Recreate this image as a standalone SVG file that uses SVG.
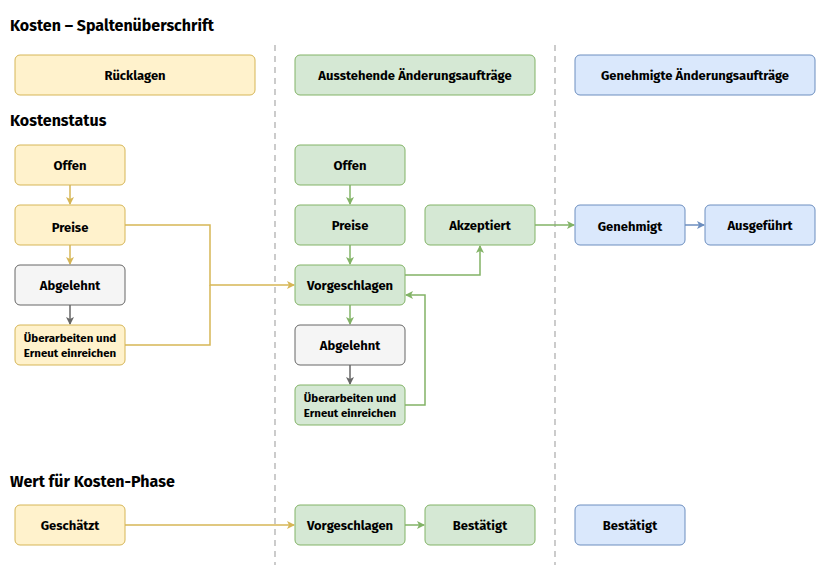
<svg xmlns="http://www.w3.org/2000/svg" width="821" height="572" viewBox="0 0 821 572">
<style>
text{font-family:"Fira Sans","Liberation Sans",sans-serif;font-weight:bold;fill:#000}
.t{font-size:16px}
.l{font-size:13px;text-anchor:middle;dominant-baseline:central}
.s{font-size:11.5px;text-anchor:middle}
.y{fill:#fff2cc;stroke:#d6b656}
.g{fill:#d5e8d4;stroke:#82b366}
.b{fill:#dae8fc;stroke:#6c8ebf}
.n{fill:#f5f5f5;stroke:#666666}
.c{fill:none;stroke-width:1.5}
.cy{stroke:#d6b656}.cg{stroke:#82b366}.cb{stroke:#6c8ebf}.cn{stroke:#666666}
</style>
<defs>
<marker id="my" markerWidth="8" markerHeight="8" refX="7" refY="4" orient="auto" markerUnits="userSpaceOnUse"><path d="M0,0L8,4L0,8L2,4z" fill="#d6b656"/></marker>
<marker id="mg" markerWidth="8" markerHeight="8" refX="7" refY="4" orient="auto" markerUnits="userSpaceOnUse"><path d="M0,0L8,4L0,8L2,4z" fill="#82b366"/></marker>
<marker id="mb" markerWidth="8" markerHeight="8" refX="7" refY="4" orient="auto" markerUnits="userSpaceOnUse"><path d="M0,0L8,4L0,8L2,4z" fill="#6c8ebf"/></marker>
<marker id="mn" markerWidth="8" markerHeight="8" refX="7" refY="4" orient="auto" markerUnits="userSpaceOnUse"><path d="M0,0L8,4L0,8L2,4z" fill="#666666"/></marker>
</defs>
<rect width="821" height="572" fill="#fff"/>
<text class="t" x="10" y="31">Kosten – Spaltenüberschrift</text>
<text class="t" x="10" y="126">Kostenstatus</text>
<text class="t" x="10" y="487">Wert für Kosten-Phase</text>
<g stroke="#aaaaaa" stroke-dasharray="6,5" stroke-width="1.2">
<line x1="275" y1="45" x2="275" y2="565"/><line x1="555" y1="45" x2="555" y2="565"/>
</g>
<g id="connectors">
<path class="c cy" d="M70,185V204" marker-end="url(#my)"/>
<path class="c cy" d="M70,245V264" marker-end="url(#my)"/>
<path class="c cn" d="M70,305V324" marker-end="url(#mn)"/>
<path class="c cy" d="M125,225H210V285H294" marker-end="url(#my)"/>
<path class="c cy" d="M125,345H210V285"/>
<path class="c cg" d="M350,185V204" marker-end="url(#mg)"/>
<path class="c cg" d="M350,245V264" marker-end="url(#mg)"/>
<path class="c cg" d="M350,305V324" marker-end="url(#mg)"/>
<path class="c cn" d="M350,365V384" marker-end="url(#mn)"/>
<path class="c cg" d="M405,405H425V295H406" marker-end="url(#mg)"/>
<path class="c cg" d="M405,275H480V246" marker-end="url(#mg)"/>
<path class="c cg" d="M535,225H574" marker-end="url(#mg)"/>
<path class="c cb" d="M685,225H704" marker-end="url(#mb)"/>
<path class="c cy" d="M125,525H294" marker-end="url(#my)"/>
<path class="c cg" d="M405,525H424" marker-end="url(#mg)"/>
</g>
<g id="h1"><rect class="y" x="15" y="55" width="240" height="40" rx="5"/><text class="l" x="135" y="75">Rücklagen</text></g>
<g id="h2"><rect class="g" x="295" y="55" width="240" height="40" rx="5"/><text class="l" x="415" y="75">Ausstehende Änderungsaufträge</text></g>
<g id="h3"><rect class="b" x="575" y="55" width="240" height="40" rx="5"/><text class="l" x="695" y="75">Genehmigte Änderungsaufträge</text></g>
<g id="y1"><rect class="y" x="15" y="145" width="110" height="40" rx="5"/><text class="l" x="70" y="165">Offen</text></g>
<g id="y2"><rect class="y" x="15" y="205" width="110" height="40" rx="5"/><text class="l" x="70" y="227">Preise</text></g>
<g id="y3"><rect class="n" x="15" y="265" width="110" height="40" rx="5"/><text class="l" x="70" y="285">Abgelehnt</text></g>
<g id="y4"><rect class="y" x="15" y="325" width="110" height="40" rx="5"/><text class="s" x="70" y="342">Überarbeiten und</text><text class="s" x="70" y="357">Erneut einreichen</text></g>
<g id="g1"><rect class="g" x="295" y="145" width="110" height="40" rx="5"/><text class="l" x="350" y="165">Offen</text></g>
<g id="g2"><rect class="g" x="295" y="205" width="110" height="40" rx="5"/><text class="l" x="350" y="225">Preise</text></g>
<g id="g3"><rect class="g" x="295" y="265" width="110" height="40" rx="5"/><text class="l" x="350" y="285">Vorgeschlagen</text></g>
<g id="g4"><rect class="n" x="295" y="325" width="110" height="40" rx="5"/><text class="l" x="350" y="345">Abgelehnt</text></g>
<g id="g5"><rect class="g" x="295" y="385" width="110" height="40" rx="5"/><text class="s" x="350" y="402">Überarbeiten und</text><text class="s" x="350" y="417">Erneut einreichen</text></g>
<g id="g6"><rect class="g" x="425" y="205" width="110" height="40" rx="5"/><text class="l" x="480" y="225">Akzeptiert</text></g>
<g id="b1"><rect class="b" x="575" y="205" width="110" height="40" rx="5"/><text class="l" x="630" y="226">Genehmigt</text></g>
<g id="b2"><rect class="b" x="705" y="205" width="110" height="40" rx="5"/><text class="l" x="760" y="225">Ausgeführt</text></g>
<g id="w1"><rect class="y" x="15" y="505" width="110" height="40" rx="5"/><text class="l" x="70" y="525">Geschätzt</text></g>
<g id="w2"><rect class="g" x="295" y="505" width="110" height="40" rx="5"/><text class="l" x="350" y="525">Vorgeschlagen</text></g>
<g id="w3"><rect class="g" x="425" y="505" width="110" height="40" rx="5"/><text class="l" x="480" y="525">Bestätigt</text></g>
<g id="w4"><rect class="b" x="575" y="505" width="110" height="40" rx="5"/><text class="l" x="630" y="525">Bestätigt</text></g>
</svg>
